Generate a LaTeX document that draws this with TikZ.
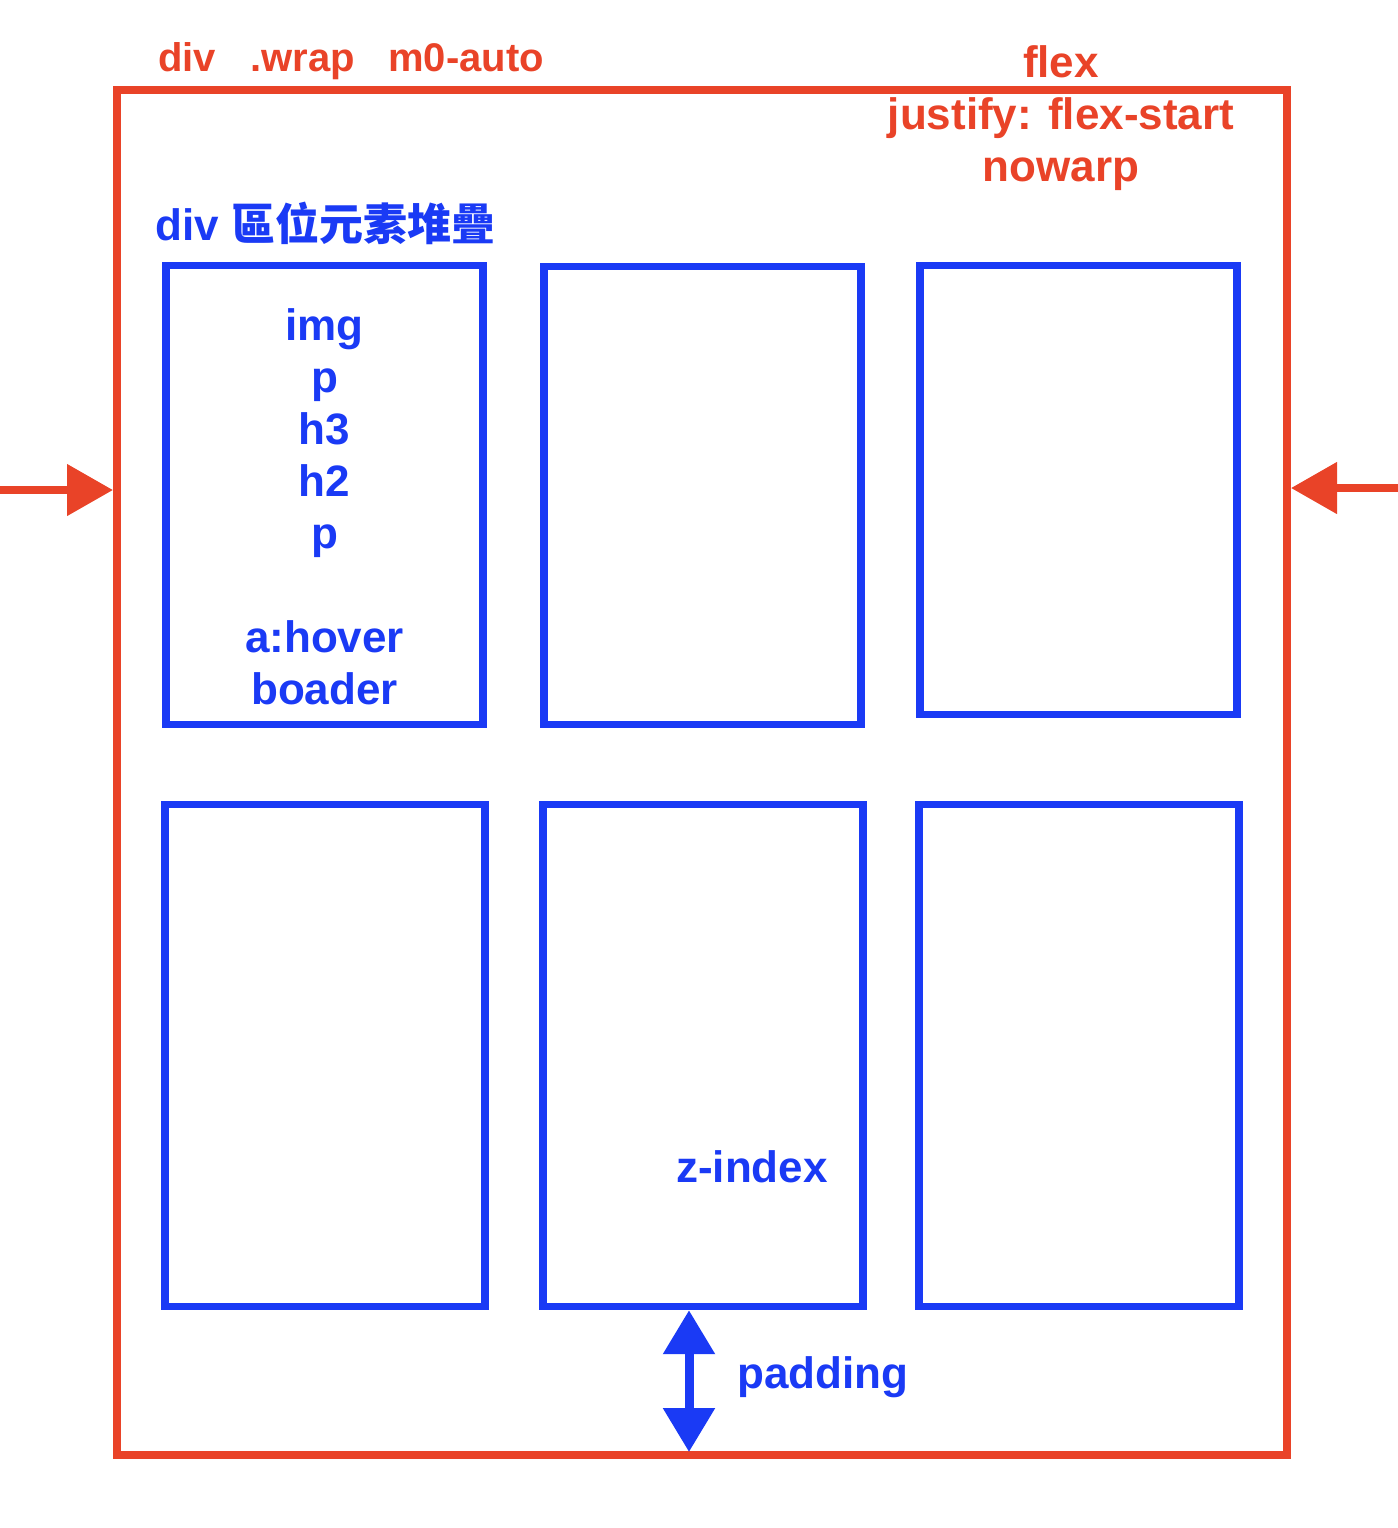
\documentclass[tikz,border=0pt]{standalone}
\usepackage{fontspec}
\setmainfont{Liberation Sans}
\newfontfamily\cjkfont{Noto Sans CJK TC}
\usetikzlibrary{arrows.meta,positioning}
\definecolor{wrapred}{RGB}{233,67,40}
\definecolor{itemblue}{RGB}{26,58,245}

\begin{document}
\begin{tikzpicture}[x=0.5pt,y=-0.5pt,
    redlbl/.style={text=wrapred,font=\fontsize{22}{26}\selectfont\bfseries,inner sep=0pt},
    bluelbl/.style={text=itemblue,font=\fontsize{22}{26}\selectfont\bfseries,inner sep=0pt},
    wrapbox/.style={draw=wrapred,line width=4pt,inner sep=0pt},
    itembox/.style={draw=itemblue,line width=3.7pt,inner sep=0pt,minimum width=158.5pt},
    redarrow/.style={draw=wrapred,line width=4pt,-{Triangle[length=23pt,width=25pt]}},
    padarrow/.style={draw=itemblue,line width=4.5pt,{Triangle[length=22pt,width=25pt]}-{Triangle[length=22pt,width=25pt]}}]
    \useasboundingbox (0,0) rectangle (1398,1528);
    % outer wrapper
    \node (wrap) [wrapbox, minimum width=585pt, minimum height=682.5pt] at (702,772.5) {};
    \node (divlbl) [redlbl, font=\fontsize{20}{24}\selectfont\bfseries, anchor=base west] at (158,71) {div};
    \node (wraplbl) [redlbl, font=\fontsize{20}{24}\selectfont\bfseries, anchor=base west] at (250,71) {.wrap};
    \node (autolbl) [redlbl, font=\fontsize{20}{24}\selectfont\bfseries, anchor=base west] at (388,71) {m0-auto};
    \node (flexlbl) [redlbl, align=center, anchor=north] at (1061,45) {flex\\justify: flex-start\\nowarp};
    % items
    \node (itemlbl) [bluelbl, anchor=base west] at (155,240) {div {\cjkfont\bfseries 區位元素堆疊}};
    \node (b1) [itembox, minimum height=229.5pt] at (324.5,495) {};
    \node (b2) [itembox, minimum height=229pt] at (702.5,495.5) {};
    \node (b3) [itembox, minimum height=224.5pt] at (1078.5,490) {};
    \node (b4) [itembox, minimum width=160pt, minimum height=251pt] at (325,1055.5) {};
    \node (b5) [itembox, minimum width=160pt, minimum height=251pt] at (703,1055.5) {};
    \node (b6) [itembox, minimum width=160pt, minimum height=251pt] at (1079,1055.5) {};
    \node (b1text) [bluelbl, align=center, below=23pt of b1.north] {img\\p\\h3\\h2\\p\\[26pt]a:hover\\boader};
    \node (zlbl) [bluelbl] at (752,1167) {z-index};
    \node (padlbl) [bluelbl, anchor=base west] at (737,1388) {padding};
    % arrows
    \coordinate (lin) at (0,490);
    \coordinate (rin) at (1398,488);
    \coordinate (padx) at (689,0);
    \draw[redarrow] (lin) -- (lin -| wrap.west);
    \draw[redarrow] (rin) -- (rin -| wrap.east);
    \draw[padarrow, shorten >=3.5pt] (padx |- b5.south) -- (padx |- wrap.south);
\end{tikzpicture}
\end{document}
